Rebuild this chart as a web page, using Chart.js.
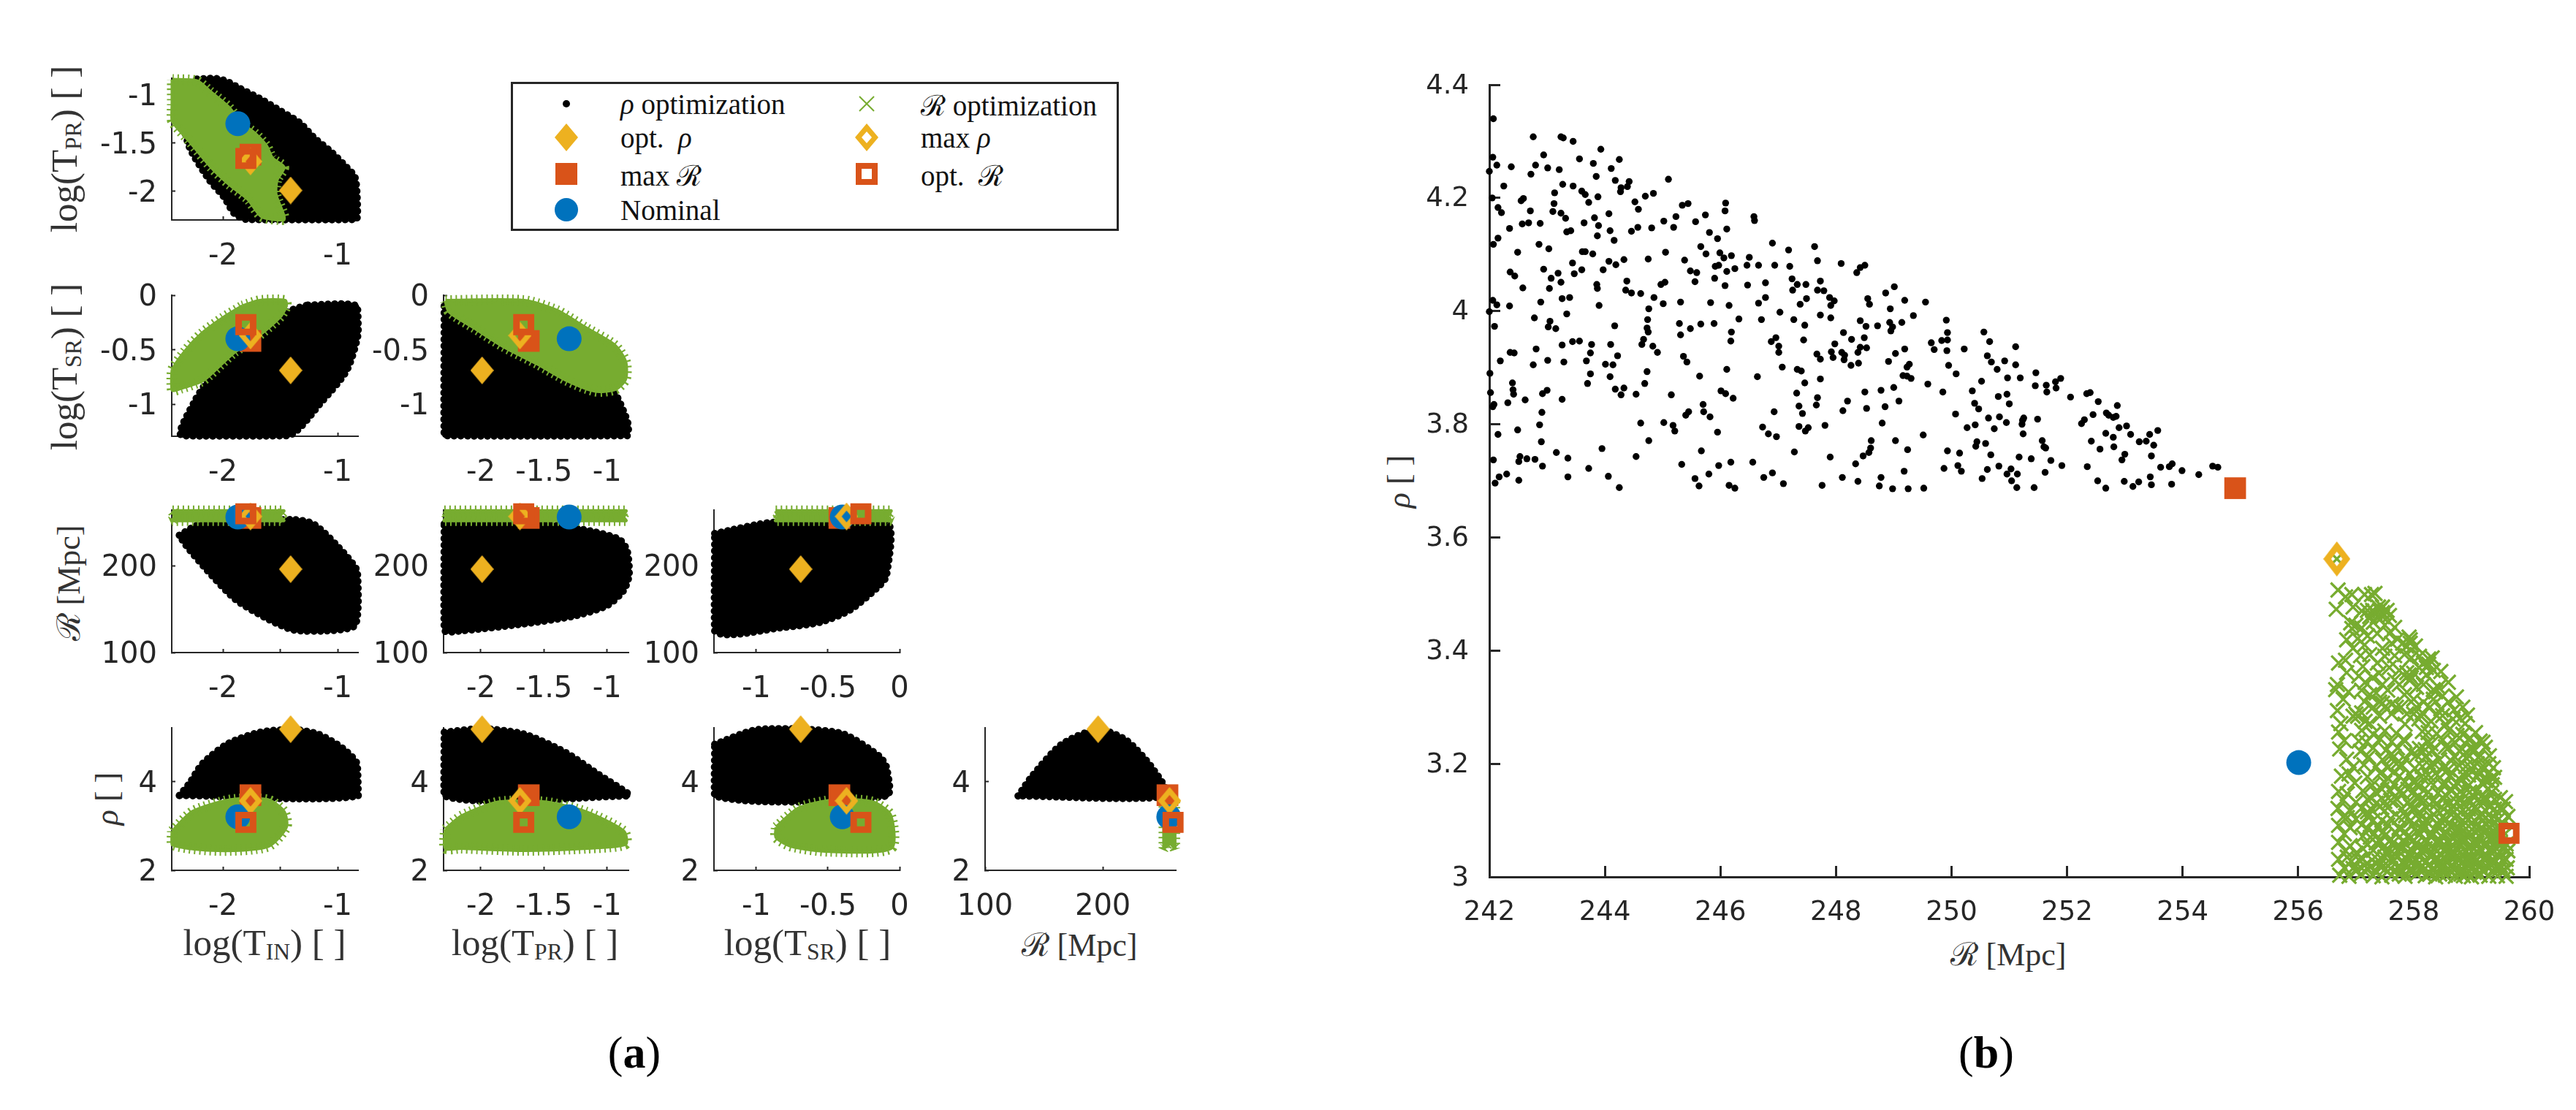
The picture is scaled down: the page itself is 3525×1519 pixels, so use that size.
<!DOCTYPE html>
<html>
<head>
<meta charset="utf-8">
<title>Optimization results</title>
<script src="https://cdn.jsdelivr.net/npm/chart.js@4"></script>
<style>
  body { margin: 0; background: #fff; }
  #page { position: relative; width: 3525px; height: 1519px; overflow: hidden; }
  #page canvas { position: absolute; }
  .lab { position: absolute; transform: translate(-50%, -50%); white-space: nowrap;
         font: 44px "Liberation Serif", serif; color: #333; }
  .big { font-size: 51px; }
  .rot { transform: translate(-50%, -50%) rotate(-90deg); }
  .sc { font-size: 62%; vertical-align: -0.16em; }
  .leg { position: absolute; transform: translateY(-50%); white-space: nowrap;
         font: 39px "Liberation Serif", serif; color: #111; }
  .cap { position: absolute; transform: translate(-50%, -50%); font: 62px "Liberation Serif", serif; color: #000; }
  #legendBox { position: absolute; left: 699px; top: 112px; width: 832px; height: 204px;
               box-sizing: border-box; border: 3px solid #262626; }
</style>
</head>
<body>
<div id="page">
  <div id="legendBox">
    <svg width="826" height="198" style="position:absolute;left:0;top:0">
      <circle cx="73" cy="27" r="5" fill="#000"/>
      <polygon points="73,54 89,73 73,92 57,73" fill="#EDB120"/>
      <rect x="58" y="108" width="30" height="30" fill="#D95319"/>
      <circle cx="73" cy="172" r="16" fill="#0072BD"/>
      <path d="M474 17 L494 37 M494 17 L474 37" stroke="#77AC30" stroke-width="2"/>
      <polygon points="484,54 500,73 484,92 468,73 484,54 484,65 477,73 484,81 491,73 484,65" fill="#EDB120" fill-rule="evenodd"/>
      <rect x="473" y="112" width="22" height="22" fill="none" stroke="#D95319" stroke-width="8"/>
    </svg>
  </div>
  <div class="leg" style="left:849px;top:142px"><i>ρ</i> optimization</div>
  <div class="leg" style="left:849px;top:188px">opt. &nbsp;<i>ρ</i></div>
  <div class="leg" style="left:849px;top:238px">max ℛ</div>
  <div class="leg" style="left:849px;top:287px">Nominal</div>
  <div class="leg" style="left:1260px;top:142px">ℛ optimization</div>
  <div class="leg" style="left:1260px;top:188px">max <i>ρ</i></div>
  <div class="leg" style="left:1260px;top:238px">opt. &nbsp;ℛ</div>

  <div class="lab big rot" style="left:89px;top:204px">log(T<span class="sc">PR</span>) [ ]</div>
  <div class="lab big rot" style="left:89px;top:502px">log(T<span class="sc">SR</span>) [ ]</div>
  <div class="lab rot" style="left:92px;top:798px">ℛ [Mpc]</div>
  <div class="lab rot" style="left:146px;top:1093px"><i>ρ</i> [ ]</div>
  <div class="lab big" style="left:362px;top:1291px">log(T<span class="sc">IN</span>) [ ]</div>
  <div class="lab big" style="left:732px;top:1291px">log(T<span class="sc">PR</span>) [ ]</div>
  <div class="lab big" style="left:1105px;top:1291px">log(T<span class="sc">SR</span>) [ ]</div>
  <div class="lab" style="left:1477px;top:1291px">ℛ [Mpc]</div>

  <div class="lab rot" style="left:1914px;top:659px"><i>ρ</i> [ ]</div>
  <div class="lab" style="left:2748px;top:1304px">ℛ [Mpc]</div>

  <div class="cap" style="left:868px;top:1440px">(<b>a</b>)</div>
  <div class="cap" style="left:2718px;top:1440px">(<b>b</b>)</div>
</div>

<script>
// marker values, same order everywhere: opt rho, max rho, max R, opt R, nominal
const tinValues = [-1.41, -1.76, -1.76, -1.80, -1.87];
const tprValues = [-1.99, -1.69, -1.62, -1.66, -1.30];
const tsrValues = [-0.69, -0.37, -0.42, -0.27, -0.40];
const rValues = [196, 256.67, 254.91, 259.65, 256.01];
const rhoValues = [5.17, 3.562, 3.687, 3.077, 3.202];

// ticks
const tinTicks = [-2, -1.5, -1];
const tinLabels = ['-2', '', '-1'];
const tprTicks = [-2, -1.5, -1];
const tprLabels = ['-2', '-1.5', '-1'];
const tsrTicks = [-1, -0.5, 0];
const tsrLabels = ['-1', '-0.5', '0'];
const rTicks = [100, 200];
const rLabels = ['100', '200'];
const rhoTicks = [2, 4];
const rhoLabels = ['2', '4'];
const bRTicks = [242, 244, 246, 248, 250, 252, 254, 256, 258, 260];
const bRLabels = ['242', '244', '246', '248', '250', '252', '254', '256', '258', '260'];
const bRhoTicks = [3, 3.2, 3.4, 3.6, 3.8, 4, 4.2, 4.4];
const bRhoLabels = ['3', '3.2', '3.4', '3.6', '3.8', '4', '4.2', '4.4'];

// panel (a): outlines of the two dense clouds, [x, y]
const blackTinTpr = [[-2.227,-0.84],[-2.08,-0.83],[-1.97,-0.86],[-1.86,-0.93],[-1.678,-1.04],[-1.495,-1.17],[-1.33,-1.29],[-1.2,-1.45],[-1.057,-1.59],[-0.93,-1.74],[-0.85,-1.85],[-0.83,-2.06],[-0.835,-2.29],[-1.788,-2.29],[-1.9,-2.23],[-1.99,-2.06],[-2.12,-1.88],[-2.3,-1.52],[-2.36,-1.07]];
const greenTinTpr = [[-2.44,-0.845],[-2.227,-0.86],[-2.117,-0.965],[-1.952,-1.13],[-1.843,-1.29],[-1.715,-1.41],[-1.623,-1.53],[-1.569,-1.66],[-1.47,-1.75],[-1.53,-1.88],[-1.54,-2.03],[-1.47,-2.29],[-1.66,-2.26],[-1.78,-2.08],[-1.94,-1.93],[-2.1,-1.75],[-2.29,-1.48],[-2.44,-1.27],[-2.44,-1.1],[-2.44,-0.92]];
const blackTinTsr = [[-1.258,-0.09],[-0.83,-0.1],[-0.82,-0.347],[-0.92,-0.69],[-1.14,-0.98],[-1.43,-1.29],[-2.36,-1.29],[-2.25,-0.98],[-2.1,-0.74],[-1.88,-0.5],[-1.63,-0.29],[-1.41,-0.14]];
const greenTinTsr = [[-1.83,-0.1],[-1.678,-0.05],[-1.459,-0.05],[-1.45,-0.1],[-1.505,-0.2],[-1.725,-0.4],[-1.905,-0.525],[-2.125,-0.74],[-2.19,-0.79],[-2.37,-0.855],[-2.44,-0.87],[-2.44,-0.69],[-2.325,-0.51],[-2.18,-0.35],[-2.0,-0.21]];
const blackTprTsr = [[-2.29,-0.1],[-2.29,-1.29],[-0.84,-1.29],[-0.83,-1.2],[-0.87,-1.06],[-0.95,-0.89],[-1.16,-0.85],[-1.49,-0.69],[-1.82,-0.5],[-2.15,-0.24]];
const greenTprTsr = [[-2.28,-0.05],[-1.658,-0.05],[-1.4,-0.14],[-1.17,-0.3],[-0.94,-0.46],[-0.855,-0.61],[-0.855,-0.77],[-0.93,-0.86],[-1.09,-0.88],[-1.32,-0.78],[-1.55,-0.63],[-1.82,-0.47],[-2.05,-0.3],[-2.25,-0.15]];
const blackTinR = [[-2.38,235],[-2.19,248],[-1.386,253],[-1.21,248],[-0.99,221],[-0.83,194],[-0.82,162],[-0.85,131],[-1.093,125],[-1.386,126],[-1.6,138],[-1.89,161],[-2.14,195],[-2.32,223]];
const greenTinR = [[-2.44,263],[-1.47,263],[-1.51,257],[-1.47,252],[-2.44,252],[-2.41,257]];
const blackTprR = [[-2.29,248],[-1.49,248],[-1.1,239],[-0.9,230],[-0.84,217],[-0.825,189],[-0.87,171],[-1.0,154],[-1.26,142],[-1.658,133],[-2.156,125],[-2.29,126]];
const greenTprR = [[-2.29,263],[-0.85,263],[-0.88,257],[-0.85,252],[-2.29,252],[-2.26,257]];
const blackTsrR = [[-1.29,237],[-0.881,250],[-0.09,250],[-0.09,189],[-0.14,177],[-0.345,149],[-0.55,135],[-0.804,129],[-1.29,125]];
const greenTsrR = [[-0.865,263],[-0.06,263],[-0.09,257],[-0.06,252],[-0.865,252],[-0.84,257]];
const blackTinRho = [[-2.38,3.68],[-2.29,3.96],[-2.18,4.39],[-1.96,4.84],[-1.678,5.1],[-1.386,5.16],[-1.17,5.06],[-0.955,4.74],[-0.83,4.39],[-0.82,3.67]];
const greenTinRho = [[-2.44,2.88],[-2.26,3.32],[-1.93,3.58],[-1.61,3.58],[-1.47,3.32],[-1.45,2.97],[-1.61,2.54],[-2.04,2.45],[-2.44,2.58]];
const blackTprRho = [[-2.29,5.1],[-1.99,5.18],[-1.658,5.06],[-1.33,4.65],[-1.07,4.16],[-0.83,3.72],[-0.83,3.67],[-2.29,3.67]];
const greenTprRho = [[-2.28,2.92],[-2.15,3.22],[-1.857,3.53],[-1.492,3.53],[-1.17,3.31],[-0.87,2.88],[-0.855,2.59],[-1.16,2.5],[-1.658,2.45],[-2.156,2.5],[-2.28,2.5]];
const blackTsrRho = [[-1.29,4.83],[-1.01,5.15],[-0.674,5.17],[-0.39,5.06],[-0.14,4.56],[-0.09,4.3],[-0.09,3.67],[-1.29,3.67]];
const greenTsrRho = [[-0.86,2.97],[-0.7,3.4],[-0.442,3.58],[-0.19,3.53],[-0.065,3.24],[-0.06,2.5],[-0.494,2.43],[-0.75,2.54],[-0.86,2.74]];
const blackRRho = [[128,3.67],[140,4.12],[165,4.83],[196,5.16],[220,4.92],[242,4.3],[254,3.67]];
const greenRRho = [[252,3.53],[261,3.53],[261,2.5],[257,2.63],[252,2.5]];

// panel (b): rho optimization points, [R, rho]
const rhoOptPoints = [
[242.07,4.340],[242.76,4.308],[243.24,4.308],[243.28,4.306],[243.45,4.300],[243.93,4.286],[242.06,4.272],[242.94,4.276],[243.56,4.269],[244.25,4.268],
[242.13,4.258],[242.38,4.255],[242.80,4.258],[243.01,4.253],[243.21,4.250],[243.80,4.261],[244.11,4.252],[242.00,4.247],[242.72,4.242],[243.85,4.238],
[245.10,4.233],[244.18,4.231],[244.42,4.229],[244.39,4.220],[244.28,4.218],[244.27,4.211],[242.25,4.221],[243.27,4.224],[243.45,4.221],[243.60,4.212],
[243.66,4.206],[243.13,4.209],[243.88,4.202],[242.05,4.200],[242.59,4.199],[242.55,4.195],[244.70,4.203],[244.84,4.208],[243.12,4.190],[243.72,4.192],
[244.52,4.193],[245.34,4.187],[245.44,4.190],[246.09,4.191],[242.15,4.183],[242.21,4.174],[242.71,4.177],[243.10,4.176],[243.24,4.173],[243.32,4.164],
[244.07,4.172],[243.82,4.165],[244.58,4.180],[245.23,4.167],[246.08,4.177],[245.74,4.170],[246.58,4.167],[246.59,4.160],[242.57,4.154],[242.68,4.156],
[242.88,4.155],[243.64,4.156],[243.89,4.151],[245.02,4.159],[245.57,4.158],[242.35,4.146],[244.57,4.148],[244.81,4.147],[245.19,4.148],[246.11,4.145],
[244.09,4.142],[244.46,4.141],[243.34,4.140],[243.41,4.142],[245.81,4.139],[243.87,4.133],[242.15,4.129],[244.16,4.125],[245.95,4.128],[242.07,4.118],
[242.86,4.118],[243.03,4.110],[246.90,4.120],[245.66,4.114],[247.18,4.108],[247.63,4.114],[242.49,4.104],[243.61,4.105],[243.66,4.105],[243.79,4.101],
[245.05,4.104],[245.75,4.101],[245.99,4.103],[246.19,4.098],[246.50,4.095],[246.06,4.094],[244.75,4.092],[244.33,4.091],[244.07,4.088],[245.38,4.090],
[247.68,4.089],[248.09,4.084],[243.44,4.085],[244.19,4.082],[248.50,4.081],[248.42,4.077],[248.36,4.068],[245.91,4.079],[245.97,4.081],[246.46,4.081],
[246.66,4.081],[246.94,4.081],[247.20,4.079],[246.25,4.075],[243.97,4.073],[243.60,4.073],[242.94,4.074],[245.48,4.071],[245.59,4.068],[246.11,4.070],
[242.36,4.069],[242.44,4.062],[243.19,4.067],[243.47,4.066],[243.07,4.058],[245.90,4.058],[247.24,4.057],[244.38,4.053],[245.04,4.051],[244.97,4.047],
[245.56,4.052],[243.86,4.047],[243.24,4.051],[246.47,4.046],[246.78,4.050],[247.33,4.047],[247.48,4.047],[247.73,4.053],[246.08,4.045],[249.01,4.043],
[243.87,4.040],[242.58,4.041],[243.04,4.040],[244.36,4.037],[244.46,4.032],[244.62,4.031],[247.25,4.037],[247.68,4.037],[247.79,4.036],[248.86,4.032],
[244.85,4.024],[247.89,4.024],[246.78,4.024],[243.39,4.024],[243.26,4.022],[248.55,4.022],[249.19,4.019],[247.97,4.018],[242.06,4.019],[242.13,4.011],
[242.89,4.016],[245.01,4.013],[245.31,4.016],[245.83,4.015],[246.66,4.014],[247.49,4.022],[247.38,4.012],[249.55,4.016],[248.58,4.012],[247.91,4.010],
[242.35,4.009],[243.90,4.010],[246.15,4.010],[244.76,4.004],[248.94,4.004],[242.00,3.999],[247.03,3.998],[243.34,3.995],[247.73,3.993],[249.34,3.992],
[242.78,3.988],[244.74,3.985],[246.32,3.986],[246.71,3.985],[247.27,3.985],[247.91,3.988],[249.91,3.984],[248.42,3.983],[243.05,3.982],[249.14,3.980],
[248.93,3.980],[245.29,3.978],[245.66,3.977],[245.89,3.978],[242.09,3.973],[243.02,3.972],[244.17,3.974],[247.46,3.975],[248.52,3.973],[248.72,3.974],
[248.98,3.972],[243.15,3.969],[244.73,3.970],[245.48,3.969],[248.95,3.965],[250.56,3.963],[246.19,3.963],[244.75,3.963],[248.13,3.962],[249.93,3.962],
[245.31,3.958],[246.96,3.953],[248.49,3.953],[248.27,3.950],[244.67,3.950],[247.44,3.949],[249.83,3.948],[249.93,3.949],[243.44,3.946],[243.56,3.947],
[246.88,3.946],[246.18,3.947],[250.66,3.946],[249.65,3.944],[244.64,3.941],[243.26,3.940],[243.77,3.941],[244.10,3.941],[247.98,3.942],[244.83,3.938],
[247.01,3.938],[251.11,3.937],[248.53,3.935],[248.42,3.936],[242.81,3.933],[249.19,3.933],[249.70,3.932],[250.22,3.933],[248.38,3.927],[249.92,3.930],
[242.36,3.927],[242.43,3.926],[244.91,3.927],[247.01,3.927],[248.10,3.927],[247.92,3.928],[243.75,3.926],[249.03,3.925],[247.67,3.924],[244.22,3.921],
[250.62,3.921],[248.15,3.922],[245.36,3.920],[247.95,3.918],[247.73,3.915],[248.14,3.914],[242.19,3.912],[243.01,3.913],[243.68,3.912],[248.91,3.911],
[250.92,3.912],[245.42,3.910],[250.69,3.910],[243.29,3.910],[248.39,3.908],[242.76,3.905],[244.01,3.906],[244.14,3.905],[249.27,3.906],[248.26,3.904],
[251.11,3.905],[249.95,3.904],[247.07,3.901],[249.23,3.901],[247.33,3.897],[247.40,3.894],[246.11,3.897],[250.79,3.897],[244.73,3.893],[243.75,3.889],
[242.01,3.890],[250.08,3.889],[249.16,3.886],[245.64,3.885],[244.09,3.884],[246.64,3.884],[249.23,3.885],[249.30,3.881],[250.97,3.882],[251.19,3.882],
[247.73,3.880],[250.52,3.876],[243.70,3.872],[244.69,3.872],[247.46,3.873],[249.59,3.871],[242.40,3.873],[244.33,3.864],[244.18,3.862],[242.41,3.861],
[243.00,3.860],[246.01,3.859],[249.00,3.865],[248.78,3.860],[248.50,3.857],[250.36,3.859],[249.85,3.857],[242.02,3.856],[242.92,3.854],[242.42,3.853],
[246.09,3.854],[247.32,3.855],[244.28,3.852],[244.54,3.853],[245.15,3.852],[250.96,3.853],[250.81,3.849],[246.22,3.846],[247.68,3.847],[242.62,3.843],
[243.26,3.844],[248.20,3.841],[249.09,3.841],[242.32,3.838],[250.40,3.837],[245.70,3.835],[242.08,3.835],[242.06,3.831],[247.66,3.834],[247.36,3.832],
[251.00,3.836],[248.53,3.828],[248.85,3.831],[250.47,3.827],[248.12,3.824],[246.93,3.822],[245.71,3.822],[242.91,3.821],[245.45,3.822],[245.40,3.816],
[247.42,3.819],[250.07,3.818],[245.82,3.813],[250.64,3.811],[250.83,3.813],[251.25,3.811],[251.23,3.807],[250.95,3.803],[248.80,3.802],[245.02,3.803],
[244.62,3.802],[251.22,3.800],[245.18,3.798],[242.87,3.799],[250.41,3.799],[247.81,3.798],[247.36,3.796],[247.52,3.794],[246.73,3.795],[250.27,3.794],
[242.49,3.790],[250.74,3.792],[245.21,3.788],[247.47,3.788],[245.95,3.786],[242.15,3.782],[251.24,3.783],[246.83,3.783],[246.97,3.778],[249.51,3.781],
[244.76,3.771],[248.61,3.771],[249.03,3.771],[242.90,3.769],[250.44,3.769],[250.59,3.766],[250.42,3.761],[243.95,3.757],[245.67,3.753],[248.60,3.758],
[249.24,3.755],[249.93,3.753],[248.57,3.750],[247.28,3.751],[243.16,3.750],[250.14,3.749],[250.68,3.746],[244.54,3.743],[247.90,3.742],[248.47,3.744],
[251.17,3.742],[242.53,3.743],[242.65,3.739],[242.79,3.738],[242.07,3.737],[243.36,3.740],[242.51,3.734],[248.34,3.730],[242.92,3.726],[245.33,3.729],
[245.97,3.727],[246.18,3.733],[246.56,3.733],[250.11,3.727],[250.82,3.726],[251.03,3.721],[243.72,3.722],[249.87,3.722],[250.62,3.720],[249.18,3.717],
[250.17,3.717],[242.30,3.712],[245.80,3.712],[246.90,3.714],[250.96,3.712],[251.14,3.712],[242.17,3.707],[243.36,3.707],[244.06,3.708],[246.75,3.706],
[245.56,3.704],[242.51,3.701],[248.11,3.706],[248.78,3.706],[250.53,3.704],[248.38,3.699],[247.09,3.695],[242.10,3.696],[251.04,3.700],[245.63,3.691],
[246.15,3.692],[246.25,3.687],[247.76,3.692],[248.75,3.691],[244.25,3.688],[248.98,3.686],[249.25,3.686],[249.52,3.687],[251.13,3.688],
[251.46,3.891],[251.89,3.881],[251.80,3.875],[251.45,3.868],[251.64,3.869],[251.81,3.864],[251.65,3.857],[252.06,3.848],[252.40,3.856],[252.34,3.854],
[252.54,3.840],[252.87,3.833],[252.68,3.820],[252.72,3.816],[252.80,3.812],[252.85,3.814],[252.45,3.817],[252.30,3.808],[252.25,3.801],[251.49,3.809],
[253.03,3.797],[252.90,3.794],[253.57,3.789],[253.43,3.782],[253.10,3.782],[252.67,3.784],[252.80,3.777],[251.57,3.771],[252.42,3.770],[253.25,3.769],
[253.37,3.770],[253.50,3.763],[251.60,3.760],[251.63,3.758],[252.81,3.760],[252.57,3.756],[253.00,3.747],[253.46,3.744],[251.38,3.739],[252.95,3.737],
[251.72,3.736],[251.91,3.727],[253.82,3.730],[253.77,3.725],[252.35,3.725],[253.62,3.724],[253.99,3.718],[254.52,3.726],[254.61,3.724],[251.62,3.715],
[254.28,3.711],[253.44,3.707],[252.53,3.700],[252.99,3.699],[253.24,3.698],[253.46,3.693],[253.81,3.694],[253.14,3.690],[252.67,3.687],[251.43,3.688]
];

// panel (b): R optimization points, [R, rho]
const rOptPoints = [
[256.67,3.562],[256.69,3.507],[256.66,3.473],[256.82,3.495],[256.93,3.499],[257.15,3.499],[257.27,3.499],[257.33,3.501],[256.95,3.477],[257.29,3.471],
[257.41,3.471],[257.46,3.477],[257.54,3.471],[257.58,3.462],[257.24,3.460],[257.37,3.460],[256.91,3.449],[257.00,3.445],[256.93,3.439],[257.46,3.460],
[257.50,3.445],[257.67,3.441],[257.58,3.430],[256.84,3.419],[257.03,3.421],[257.20,3.426],[257.37,3.430],[257.92,3.424],[257.81,3.413],[257.94,3.413],
[258.03,3.408],[256.95,3.404],[257.46,3.404],[257.62,3.413],[256.70,3.378],[256.82,3.383],[257.08,3.391],[257.24,3.393],[257.67,3.391],[257.84,3.393],
[257.96,3.387],[258.26,3.385],[258.32,3.387],[258.17,3.378],[256.68,3.340],[256.84,3.361],[257.12,3.372],[257.37,3.378],[257.58,3.370],[257.88,3.361],
[258.09,3.370],[258.47,3.363],[258.34,3.365],[258.22,3.357],[256.65,3.331],[256.78,3.314],[257.16,3.344],[257.29,3.352],[257.46,3.340],[257.67,3.348],
[257.94,3.348],[258.17,3.340],[258.60,3.344],[258.74,3.318],[258.43,3.335],[258.34,3.314],[256.68,3.294],[256.87,3.327],[257.00,3.288],[257.24,3.322],
[257.41,3.309],[257.62,3.305],[257.84,3.322],[258.00,3.314],[258.17,3.309],[258.60,3.309],[258.93,3.286],[258.47,3.297],[256.74,3.271],[256.95,3.284],
[257.16,3.275],[257.41,3.284],[257.62,3.288],[257.88,3.288],[258.13,3.284],[258.30,3.275],[258.68,3.279],[258.89,3.271],[257.33,3.467],[257.20,3.471],
[257.46,3.467],[257.39,3.477],[257.94,3.419],[257.88,3.408],[258.26,3.376],[258.22,3.370],[257.92,3.357],[257.96,3.352],[258.34,3.331],[258.38,3.327],
[257.46,3.307],[258.00,3.288],[258.09,3.279],[257.03,3.284],[257.24,3.271],
[256.70,3.256],[257.10,3.259],[257.30,3.252],[257.50,3.258],[257.70,3.254],[258.15,3.257],[258.40,3.253],[258.60,3.259],[258.85,3.252],[259.07,3.255],
[256.80,3.241],[257.18,3.238],[257.42,3.244],[257.62,3.239],[257.83,3.243],[258.24,3.238],[258.50,3.242],[258.72,3.237],[258.95,3.243],[259.20,3.238],
[256.72,3.226],[257.08,3.222],[257.30,3.228],[257.52,3.224],[257.72,3.228],[257.95,3.221],[258.10,3.227],[258.33,3.223],[258.60,3.228],[258.80,3.222],[259.00,3.226],[259.24,3.229],
[256.84,3.208],[257.22,3.212],[257.46,3.207],[257.66,3.213],[257.86,3.208],[258.20,3.212],[258.45,3.207],[258.70,3.213],[258.92,3.209],[259.12,3.211],[259.31,3.214],
[256.95,3.194],[257.14,3.198],[257.55,3.193],[257.80,3.197],[258.02,3.192],[258.28,3.197],[258.52,3.193],[258.78,3.198],[259.00,3.192],[259.20,3.196],[259.38,3.193],
[256.75,3.178],[256.88,3.182],[257.20,3.177],[257.42,3.183],[257.75,3.178],[257.93,3.182],[258.13,3.177],[258.38,3.183],[258.62,3.178],[258.85,3.181],[259.10,3.177],[259.29,3.182],[259.40,3.176],
[256.98,3.166],[257.28,3.162],[257.50,3.167],[257.66,3.163],[257.85,3.168],[258.05,3.162],[258.30,3.167],[258.50,3.163],[258.75,3.167],[258.95,3.162],[259.18,3.166],[259.36,3.163],
[256.70,3.151],[256.85,3.147],[257.12,3.152],[257.36,3.148],[257.60,3.152],[257.82,3.147],[258.00,3.151],[258.42,3.148],[258.65,3.152],[258.86,3.147],[259.08,3.151],[259.28,3.155],
[256.78,3.136],[257.00,3.132],[257.20,3.137],[257.50,3.133],[257.70,3.138],[257.90,3.132],[258.13,3.136],[258.33,3.133],[258.52,3.138],[258.75,3.132],[258.96,3.136],[259.16,3.134],[259.40,3.137],[259.59,3.133],
[256.69,3.121],[256.90,3.117],[257.10,3.122],[257.28,3.118],[257.55,3.122],[258.00,3.118],[258.22,3.122],[258.42,3.117],[258.64,3.121],[258.85,3.118],[259.05,3.122],[259.25,3.117],[259.50,3.121],
[256.78,3.106],[257.00,3.102],[257.20,3.107],[257.60,3.103],[257.86,3.108],[258.10,3.102],[258.30,3.106],[258.55,3.103],[258.75,3.107],[258.95,3.102],[259.15,3.106],[259.35,3.103],[259.63,3.107],
[256.70,3.091],[256.90,3.087],[257.10,3.092],[257.38,3.088],[257.55,3.092],[257.75,3.087],[257.98,3.091],[258.20,3.088],[258.42,3.092],[258.65,3.087],[258.85,3.091],[259.05,3.088],[259.25,3.092],[259.45,3.088],
[256.80,3.076],[257.12,3.072],[257.32,3.077],[257.50,3.073],[257.70,3.077],[257.90,3.072],[258.12,3.076],[258.32,3.073],[258.52,3.077],[258.73,3.072],[258.93,3.076],[259.13,3.073],[259.33,3.077],[259.55,3.073],
[256.70,3.061],[257.20,3.057],[257.42,3.062],[257.62,3.058],[257.82,3.062],[258.02,3.057],[258.22,3.061],[258.42,3.058],[258.62,3.062],[258.82,3.057],[259.02,3.061],[259.22,3.058],[259.42,3.062],[259.60,3.058],
[256.82,3.046],[257.00,3.042],[257.30,3.047],[257.52,3.043],[257.72,3.047],[257.92,3.042],[258.12,3.046],[258.32,3.043],[258.52,3.047],[258.72,3.042],[258.90,3.046],[259.10,3.043],[259.30,3.047],[259.50,3.043],[259.63,3.046],
[256.70,3.031],[256.92,3.027],[257.12,3.032],[257.40,3.028],[257.60,3.032],[257.82,3.027],[258.02,3.031],[258.22,3.028],[258.42,3.032],[258.60,3.027],[258.80,3.031],[259.00,3.028],[259.20,3.032],[259.40,3.028],[259.60,3.031],
[256.80,3.016],[257.02,3.012],[257.25,3.017],[257.50,3.013],[257.72,3.017],[257.92,3.012],[258.12,3.016],[258.32,3.013],[258.50,3.017],[258.70,3.012],[258.90,3.016],[259.08,3.013],[259.28,3.017],[259.48,3.013],[259.62,3.016],
[256.72,3.003],[256.88,3.001],[257.08,3.004],[257.30,3.002],[257.45,3.000],[257.62,3.003],[257.85,3.001],[258.20,3.002],[258.38,3.000],[258.55,3.003],[258.72,3.001],[258.86,3.002],[259.00,3.000],[259.15,3.003],[259.30,3.001],[259.45,3.002],[259.60,3.001],
[258.55,3.100],[258.85,3.065],[259.15,3.085],[259.25,3.055],[258.65,3.038],[258.95,3.025],[259.05,3.008],[259.35,3.020],[259.55,3.030],[258.8,3.085],[259.25,3.035],[258.45,3.015],[259.45,3.070],[259.35,3.092],[258.5,3.07],
[257.85,3.24],[258.05,3.215],[258.55,3.23],[258.9,3.22],[259.1,3.2],[258.35,3.2],[257.65,3.185],[258.1,3.16],[258.45,3.175],[258.7,3.16],[258.95,3.18],[259.25,3.17],[259.05,3.14],[258.55,3.145],[258.2,3.135],[257.75,3.15],
[257.95,3.125],[258.35,3.11],[258.7,3.125],[258.9,3.105],[259.1,3.12],[259.3,3.125],[259.45,3.1],[259.55,3.12],[257.45,3.1],[257.75,3.085],[257.95,3.1],[258.15,3.085],[258.3,3.075],[258.6,3.095],[258.75,3.06],[258.95,3.09],
[259.15,3.07],[259.4,3.08],[259.55,3.05],[257.35,3.06],[257.55,3.045],[257.8,3.05],[258.0,3.065],[258.2,3.05],[258.45,3.04],[258.6,3.05],[258.85,3.04],[259.05,3.05],[259.25,3.06],[259.4,3.045],[257.15,3.02],[257.4,3.02],
[257.65,3.03],[257.85,3.02],[258.05,3.02],[258.25,3.02],[258.45,3.025],[258.55,3.01],[258.78,3.02],[258.98,3.035],[259.15,3.02],[259.35,3.03],[259.5,3.02],[258.62,3.04],[258.82,3.005],[259.08,3.03],[259.22,3.01],[259.38,3.01],
[259.55,3.012],[258.65,3.02],[258.92,3.005],[258.45,3.005],[258.28,3.005],[258.05,3.005],[257.95,3.04],[257.75,3.005],[257.7,3.3],[258.05,3.3],[258.5,3.285],[257.15,3.31],[257.85,3.27],[258.25,3.255],[258.75,3.25],[258.98,3.245],
[257.05,3.24],[257.6,3.215],[258.3,3.235],[259.15,3.24],[258.2,3.225],[258.65,3.205],[259.05,3.225],[257.35,3.195],[257.7,3.2],[258.15,3.195],[258.6,3.19],[258.9,3.195],[259.3,3.2],[257.55,3.175],[258.0,3.17],[258.25,3.18],
[258.55,3.165],[258.82,3.17],[259.15,3.185],[259.35,3.175],[257.45,3.155],[257.9,3.155],[258.25,3.15],[258.75,3.145],[258.97,3.15],[259.2,3.145],[259.35,3.15],[257.35,3.13],[257.6,3.135],[258.05,3.14],[258.4,3.13],[258.62,3.13],
[258.85,3.13],[259.25,3.135],[259.5,3.14],[257.2,3.115],[257.42,3.125],[257.8,3.12],[258.1,3.115],[258.52,3.12],[258.95,3.12],[259.18,3.11],[259.4,3.12],[256.85,3.105],[257.3,3.1],[257.75,3.105],[258.2,3.1],[258.45,3.1],
[258.65,3.11],[258.85,3.1],[259.05,3.1],[259.25,3.105],[259.55,3.095],[257.2,3.085],[257.48,3.08],[257.85,3.08],[258.05,3.08],[258.35,3.085],[258.55,3.08],[258.75,3.085],[259.0,3.075],[259.25,3.08],[259.5,3.085],[257.25,3.07],
[257.6,3.065],[257.95,3.07],[258.2,3.065],[258.45,3.065],[258.68,3.07],[258.9,3.065],[259.1,3.06],[259.35,3.065],[259.5,3.06],[256.9,3.055],[257.12,3.05],[257.5,3.055],[257.72,3.055],[258.1,3.055],[258.32,3.055],[258.5,3.055],
[258.68,3.055],[258.95,3.05],[259.15,3.05],[259.35,3.05],[256.85,3.035],[257.05,3.03],[257.28,3.03],[257.5,3.035],[257.72,3.035],[257.9,3.03],[258.1,3.035],[258.3,3.035],[258.52,3.035],[258.72,3.035],[258.9,3.03],[259.1,3.03],
[259.28,3.035],[259.48,3.035],[256.95,3.015],[257.15,3.01],[257.35,3.01],[257.6,3.015],[257.82,3.01],[258.0,3.01],[258.2,3.015],[258.4,3.01],[258.6,3.015],[258.8,3.012],[259.0,3.015],[259.18,3.012],[259.4,3.015],
[257.1,3.33],[257.35,3.325],[257.55,3.33],[257.75,3.34],[258.05,3.335],[258.28,3.3],[258.5,3.32],[258.7,3.295],[258.85,3.3],[257.1,3.29],[257.3,3.3],[257.5,3.3],[257.78,3.3],[258.15,3.29],[258.4,3.285],[258.55,3.27],
[258.8,3.28],[257.05,3.355],[257.4,3.36],[257.75,3.365],[258.0,3.36],[258.1,3.39],[257.5,3.39],[257.15,3.41],[257.72,3.42],[257.1,3.44],[257.3,3.45],[257.1,3.47]
];

// layout of the small multiples
const colLeft = [235, 607, 977, 1348];
const colWidth = [255, 253, 254, 261];
const rowTop = [107, 404, 698, 996];
const rowHeight = [194, 193, 195, 195];
const PAD = { left: 110, right: 60, top: 60, bottom: 105 };

const axes = {
  tin: { min: -2.446, max: -0.822, ticks: tinTicks, labels: tinLabels, values: tinValues },
  tpr: { min: -2.295, max: -0.83, ticks: tprTicks, labels: tprLabels, values: tprValues },
  tsr: { min: -1.295, max: 0, ticks: tsrTicks, labels: tsrLabels, values: tsrValues },
  r: { min: 100, max: 264, ticks: rTicks, labels: rLabels, values: rValues },
  rho: { min: 2, max: 5.2, ticks: rhoTicks, labels: rhoLabels, values: rhoValues },
};
const rxAxis = { ...axes.r, max: 262 };

const panels = [
  { col: 0, row: 0, x: axes.tin, y: axes.tpr, black: blackTinTpr, green: greenTinTpr },
  { col: 0, row: 1, x: axes.tin, y: axes.tsr, black: blackTinTsr, green: greenTinTsr },
  { col: 1, row: 1, x: axes.tpr, y: axes.tsr, black: blackTprTsr, green: greenTprTsr },
  { col: 0, row: 2, x: axes.tin, y: axes.r, black: blackTinR, green: greenTinR, sharp: true },
  { col: 1, row: 2, x: axes.tpr, y: axes.r, black: blackTprR, green: greenTprR, sharp: true },
  { col: 2, row: 2, x: axes.tsr, y: axes.r, black: blackTsrR, green: greenTsrR, sharp: true },
  { col: 0, row: 3, x: axes.tin, y: axes.rho, black: blackTinRho, green: greenTinRho },
  { col: 1, row: 3, x: axes.tpr, y: axes.rho, black: blackTprRho, green: greenTprRho },
  { col: 2, row: 3, x: axes.tsr, y: axes.rho, black: blackTsrRho, green: greenTsrRho },
  { col: 3, row: 3, x: rxAxis, y: axes.rho, black: blackRRho, green: greenRRho, sharp: true },
];

const BLACK = '#000000', GREEN = '#77AC30', YELLOW = '#EDB120', ORANGE = '#D95319', BLUE = '#0072BD', AXIS = '#262626';

// narrow matlab style diamonds, chart.js has no such point style
function diamondSprite(w, h, hollow) {
  const c = document.createElement('canvas');
  c.width = w;
  c.height = h;
  const ctx = c.getContext('2d');
  const shape = (s) => {
    ctx.moveTo(w / 2, h / 2 - h / 2 * s);
    ctx.lineTo(w / 2 + w / 2 * s, h / 2);
    ctx.lineTo(w / 2, h / 2 + h / 2 * s);
    ctx.lineTo(w / 2 - w / 2 * s, h / 2);
    ctx.closePath();
  };
  ctx.fillStyle = YELLOW;
  ctx.beginPath();
  shape(1);
  if (hollow) shape(0.42);
  ctx.fill('evenodd');
  return c;
}

function toXY(pairs) {
  return pairs.map(p => ({ x: p[0], y: p[1] }));
}

function marker(xv, yv, i, style, extra) {
  return Object.assign({
    data: [{ x: xv[i], y: yv[i] }],
    pointStyle: style,
    pointBorderWidth: 0,
    clip: false,
  }, extra);
}

// bottom to top: opt rho, max R, nominal, max rho, opt R
function markerSets(xAxis, yAxis, diamondW, diamondH) {
  const xv = xAxis.values, yv = yAxis.values;
  const sets = [
    marker(xv, yv, 0, diamondSprite(diamondW, diamondH, false), { pointRadius: 10 }),
    marker(xv, yv, 2, 'rect', { pointRadius: 21, pointBackgroundColor: ORANGE }),
    marker(xv, yv, 4, 'circle', { pointRadius: 17, pointBackgroundColor: BLUE }),
    marker(xv, yv, 1, diamondSprite(diamondW, diamondH, true), { pointRadius: 10 }),
    marker(xv, yv, 3, 'rect', { pointRadius: 14, pointBackgroundColor: 'rgba(0,0,0,0)', pointBorderColor: ORANGE, pointBorderWidth: 9 }),
  ];
  return sets.filter(s => {
    const p = s.data[0];
    return p.x >= xAxis.min && p.x <= xAxis.max && p.y >= yAxis.min && p.y <= yAxis.max;
  });
}

// a cloud too dense to tell points apart: filled outline plus a dashed stroke for the rough edge
function cloudSets(pairs, color, tension, dash, dashWidth, cap) {
  const closed = toXY(pairs.concat([pairs[0]]));
  const base = { data: closed, showLine: true, tension, pointRadius: 0, borderColor: color, clip: false };
  return [
    Object.assign({}, base, { fill: 'shape', backgroundColor: color, borderWidth: 5, borderJoinStyle: 'round' }),
    Object.assign({}, base, { fill: false, borderWidth: dashWidth, borderDash: dash, borderCapStyle: cap, borderJoinStyle: 'bevel' }),
  ];
}

function scaleOptions(axis, fontSize, tickLen, lineW, gap, fitKey, fitValue, labelShift) {
  return {
    type: 'linear',
    min: axis.min,
    max: axis.max,
    afterBuildTicks: s => { s.ticks = axis.ticks.map(v => ({ value: v })); },
    afterFit: s => { s[fitKey] = fitValue; },
    grid: { drawOnChartArea: false, drawTicks: true, tickLength: -tickLen, tickWidth: lineW, tickColor: AXIS },
    border: { display: true, color: AXIS, width: lineW },
    ticks: {
      autoSkip: false,
      minRotation: 0,
      maxRotation: 0,
      padding: gap + tickLen,
      labelOffset: labelShift,
      color: AXIS,
      font: { family: 'DejaVu Sans', size: fontSize },
      callback: (v, i) => axis.labels[i],
    },
  };
}

function addChart(left, top, width, height, pad, xScale, yScale, datasets) {
  const canvas = document.createElement('canvas');
  canvas.width = width + pad.left + pad.right;
  canvas.height = height + pad.top + pad.bottom;
  canvas.style.left = (left - pad.left) + 'px';
  canvas.style.top = (top - pad.top) + 'px';
  document.getElementById('page').appendChild(canvas);
  return new Chart(canvas, {
    type: 'scatter',
    // chart.js paints the first dataset last, so flip the bottom-to-top list
    data: { datasets: datasets.slice().reverse() },
    options: {
      responsive: false,
      animation: false,
      events: [],
      layout: { padding: { top: pad.top, right: pad.right } },
      plugins: { legend: { display: false }, tooltip: { enabled: false } },
      scales: { x: xScale, y: yScale },
    },
  });
}

panels.forEach(p => {
  const tension = p.sharp ? 0 : 0.25;
  addChart(colLeft[p.col], rowTop[p.row], colWidth[p.col], rowHeight[p.row], PAD,
    scaleOptions(p.x, 40, 5, 2, 27, 'height', PAD.bottom, 0),
    scaleOptions(p.y, 40, 5, 2, 20, 'width', PAD.left, 4),
    cloudSets(p.black, BLACK, 0.25, [0.1, 9], 10, 'round')
      .concat(cloudSets(p.green, GREEN, tension, [2, 5], 15, 'butt'))
      .concat(markerSets(p.x, p.y, 32, 38)));
});

// panel (b)
const bxAxis = { min: 242, max: 260, ticks: bRTicks, labels: bRLabels, values: rValues };
const byAxis = { min: 3, max: 4.4, ticks: bRhoTicks, labels: bRhoLabels, values: rhoValues };
const bPad = { left: 130, right: 80, top: 80, bottom: 110 };
addChart(2038, 116, 1423, 1084, bPad,
  scaleOptions(bxAxis, 37, 15, 3, 27, 'height', bPad.bottom, 0),
  scaleOptions(byAxis, 37, 15, 3, 28, 'width', bPad.left, 2),
  [
    { data: toXY(rhoOptPoints), pointStyle: 'circle', pointRadius: 4.7, pointBackgroundColor: BLACK, pointBorderWidth: 0, clip: false },
    { data: toXY(rOptPoints), pointStyle: 'crossRot', pointRadius: 14, pointBorderColor: GREEN, pointBorderWidth: 3.3, clip: false },
  ].concat(markerSets(bxAxis, byAxis, 37, 48)));
</script>
</body>
</html>
